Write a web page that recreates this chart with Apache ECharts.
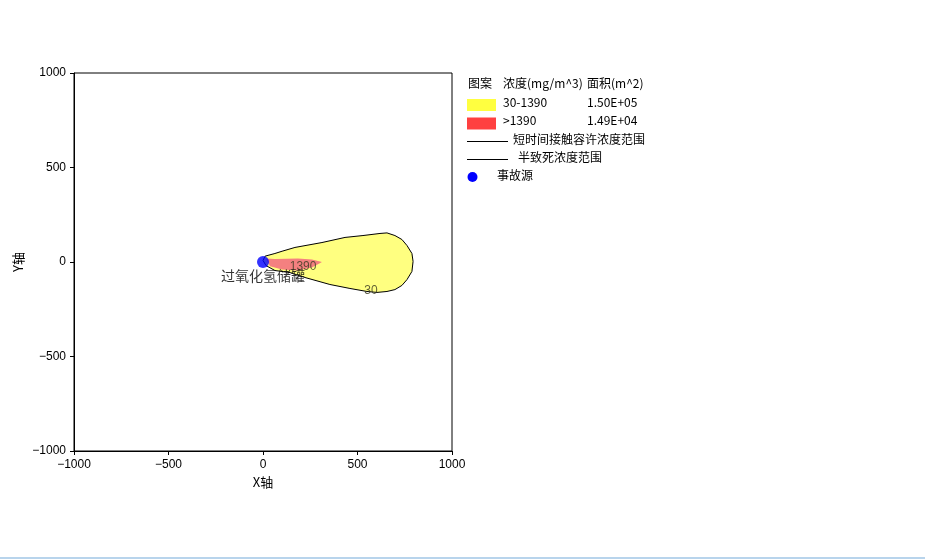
<!DOCTYPE html>
<html>
<head>
<meta charset="utf-8">
<script src="https://cdn.jsdelivr.net/npm/echarts@6/dist/echarts.min.js"></script>
<style>
html,body{margin:0;padding:0;background:#fff;}
#main{width:925px;height:559px;}
</style>
</head>
<body>
<div id="main"></div>
<script>
// 30 mg/m^3 等值线（短时间接触容许浓度范围）
var outerContour = [
    [0, 8], [11, 31], [63, 45], [101, 57], [169, 77], [312, 103], [434, 130],
    [529, 140], [619, 151], [656, 154], [698, 140], [735, 119], [762, 87],
    [788, 45], [794, 3], [788, -50], [762, -93], [735, -124], [698, -146],
    [656, -156], [603, -161], [550, -156], [460, -140], [354, -119],
    [222, -82], [143, -56], [63, -45], [16, -19]
];
// 1390 mg/m^3 等值线（半致死浓度范围）
var innerContour = [
    [16, 19], [63, 16], [185, 19], [259, 13], [312, 0],
    [259, -29], [185, -45], [101, -40], [37, -22]
];
var sourcePoint = [0, 0];
var sourceName = '过氧化氢储罐';
var contourLabels = [
    {name: '1390', value: [212, -26]},
    {name: '30', value: [571, -151]}
];
var axisTicks = [-1000, 1000, 500];

// 图例
var legendHeader = ['图案', '浓度(mg/m^3)', '面积(m^2)'];
var legendRanges = ['30-1390', '>1390'];
var legendAreas = ['1.50E+05', '1.49E+04'];
var legendColors = ['#ffff40', '#ff4040'];
var legendLines = ['短时间接触容许浓度范围', '半致死浓度范围'];
var legendSource = '事故源';

var chart = echarts.init(document.getElementById('main'));

function polygonRender(points, fill, stroke) {
    return function (params, api) {
        return {
            type: 'polygon',
            shape: {points: points.map(function (p) { return api.coord(p); })},
            style: {fill: fill, stroke: stroke || null, lineWidth: stroke ? 1 : 0}
        };
    };
}

var fontCN = "'Noto Sans CJK SC'";
var graphics = [];
function addText(x, y, t) {
    graphics.push({type: 'text', left: x, top: y - 8, style: {text: t, fill: '#000', font: '12px ' + fontCN}});
}
addText(468, 85, legendHeader[0]);
addText(503, 85, legendHeader[1]);
addText(587, 85, legendHeader[2]);
for (var i = 0; i < legendRanges.length; i++) {
    var ry = 104 + i * 18.5;
    graphics.push({type: 'rect', shape: {x: 467, y: ry - 5, width: 29, height: 12}, style: {fill: legendColors[i]}});
    addText(503, ry, legendRanges[i]);
    addText(587, ry, legendAreas[i]);
}
for (var j = 0; j < legendLines.length; j++) {
    var ly = 141.5 + j * 18;
    graphics.push({type: 'line', shape: {x1: 467, y1: ly, x2: 508, y2: ly}, style: {stroke: '#000', lineWidth: 1}});
    addText(513 + j * 5, ly, legendLines[j]);
}
graphics.push({type: 'circle', shape: {cx: 472.5, cy: 177, r: 5}, style: {fill: '#0000ff'}});
addText(497, 177, legendSource);
graphics.push({type: 'rect', shape: {x: 0, y: 557, width: 925, height: 2}, style: {fill: '#b8d4ec'}});

function tickFmt(v) { return String(v).replace('-', '\u2212'); }

var axisCommon = {
    type: 'value',
    min: axisTicks[0],
    max: axisTicks[1],
    interval: axisTicks[2],
    nameLocation: 'middle',
    nameTextStyle: {color: '#000', fontSize: 13, fontFamily: fontCN},
    axisLine: {show: true, onZero: false, lineStyle: {color: '#000', width: 1}},
    axisTick: {show: true, inside: false, length: 4, lineStyle: {color: '#000'}},
    axisLabel: {color: '#000', fontSize: 12, fontFamily: 'Liberation Sans', formatter: tickFmt},
    splitLine: {show: false}
};

var option = {
    animation: false,
    backgroundColor: '#fff',
    grid: {left: 74, top: 73, width: 378, height: 378, show: true, borderColor: '#000', borderWidth: 1, backgroundColor: 'transparent'},
    xAxis: echarts.util.merge({name: 'X轴', nameGap: 25, axisLabel: {margin: 8}}, axisCommon),
    yAxis: echarts.util.merge({name: 'Y轴', nameGap: 49, axisLabel: {margin: 8}}, axisCommon),
    graphic: graphics,
    series: [
        {
            type: 'custom',
            renderItem: polygonRender(outerContour, '#ffff80', '#000'),
            data: [sourcePoint],
            silent: true,
            z: 1
        },
        {
            type: 'custom',
            renderItem: polygonRender(innerContour, '#f48080', null),
            data: [sourcePoint],
            silent: true,
            z: 2
        },
        {
            type: 'scatter',
            data: contourLabels,
            symbolSize: 0,
            z: 3,
            label: {
                show: true, position: 'inside', formatter: '{b}',
                color: '#3a3a20', fontSize: 12, fontFamily: 'Liberation Sans'
            }
        },
        {
            type: 'scatter',
            data: [sourcePoint],
            symbolSize: 12,
            itemStyle: {color: '#0000ff'},
            z: 4,
            label: {
                show: true, position: 'bottom', distance: 1,
                formatter: sourceName,
                color: '#000', fontSize: 14, fontFamily: fontCN
            }
        }
    ]
};
chart.setOption(option);
</script>
</body>
</html>
